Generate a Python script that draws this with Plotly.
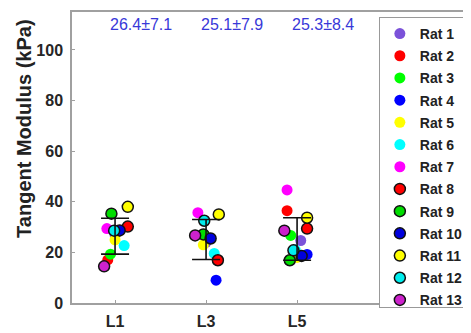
import plotly.graph_objects as go

levels = ["L1", "L3", "L5"]
level_pos = [1, 2, 3]
rats = [f"Rat {i}" for i in range(1, 14)]

# Tangent modulus (kPa) per rat, per level
vals_L1 = [27.0, 17.0, 19.3, 28.0, 25.0, 22.7, 29.4, 30.2, 35.3, 28.7, 38.0, 28.6, 14.5]
vals_L3 = [24.0, 26.0, 27.0, 9.0, 23.0, 19.6, 35.7, 16.9, 27.1, 25.5, 35.0, 32.5, 26.7]
vals_L5 = [24.7, 36.5, 26.7, 19.2, 18.0, 21.0, 44.7, 29.4, 16.9, 18.6, 33.7, 20.8, 28.6]

# horizontal jitter (category units)
jit_L1 = [0.00, -0.08, -0.05, 0.02, 0.00, 0.10, -0.09, 0.14, -0.04, 0.05, 0.14, -0.01, -0.12]
jit_L3 = [0.00, 0.00, -0.02, 0.11, -0.03, 0.09, -0.09, 0.13, -0.03, 0.05, 0.14, -0.02, -0.12]
jit_L5 = [0.04, -0.11, -0.07, 0.11, 0.00, -0.02, -0.11, 0.11, -0.08, 0.05, 0.11, -0.04, -0.14]

means = [26.4, 25.1, 25.3]
sds = [7.1, 7.9, 8.4]
stat_labels = ["26.4±7.1", "25.1±7.9", "25.3±8.4"]

colors = ["#7b52d9", "#ff0000", "#00ff00", "#0000ff", "#ffff00", "#00ffff", "#ff00ff",
          "#ff0000", "#00dd00", "#0000dd", "#ffff00", "#00eeee", "#cc22cc"]
outlined = [False] * 7 + [True] * 6

FONT = "Liberation Sans, Arial, sans-serif"

fig = go.Figure()
for i, rat in enumerate(rats):
    xs = [level_pos[0] + jit_L1[i], level_pos[1] + jit_L3[i], level_pos[2] + jit_L5[i]]
    ys = [vals_L1[i], vals_L3[i], vals_L5[i]]
    fig.add_trace(go.Scatter(
        x=xs, y=ys, mode="markers", name=rat, legendgroup=rat,
        marker=dict(size=11, color=colors[i],
                    line=dict(color="#111111" if outlined[i] else colors[i],
                              width=1.5 if outlined[i] else 0)),
    ))

fig.add_trace(go.Scatter(
    x=level_pos, y=means, mode="markers", showlegend=False,
    marker=dict(size=1, color="rgba(0,0,0,0)"),
    error_y=dict(type="data", array=sds, visible=True, color="#111111",
                 thickness=1.6, width=14),
))

for p, lab in zip(level_pos, stat_labels):
    fig.add_annotation(x=p + 0.28, y=110, text=lab, showarrow=False,
                       font=dict(family=FONT, size=16, color="#3838d8"))

fig.add_annotation(xref="paper", yref="paper", x=-0.152, y=0.60,
                   text="<b>Tangent Modulus (kPa)</b>", textangle=-90,
                   showarrow=False, font=dict(family=FONT, size=20, color="#222222"))

# page body has an 8px default margin; figure sized to fit the 471x333 window
fig.update_layout(
    width=463, height=325,
    margin=dict(l=64, r=1, t=4, b=30, autoexpand=False),
    paper_bgcolor="white", plot_bgcolor="white",
    font=dict(family=FONT),
    legend=dict(x=0.771, y=0.983, xanchor="left", yanchor="top",
                bgcolor="white", bordercolor="#999999", borderwidth=1,
                font=dict(family=FONT, size=14, color="#222222", weight="bold"),
                tracegroupgap=1, itemwidth=30),
)
fig.update_xaxes(range=[0.527, 4.90], tickmode="array", tickvals=level_pos,
                 ticktext=levels, showgrid=False, zeroline=False,
                 showline=True, linecolor="#a0a0a0", linewidth=1.5, mirror=True,
                 ticks="inside", ticklen=3, tickcolor="#a0a0a0", ticklabelstandoff=3,
                 tickfont=dict(family=FONT, size=16, color="#262626", weight="bold"))
fig.update_yaxes(range=[0, 115], tickvals=[0, 20, 40, 60, 80, 100],
                 showgrid=False, zeroline=False,
                 showline=True, linecolor="#a0a0a0", linewidth=1.5, mirror=True,
                 ticks="inside", ticklen=3, tickcolor="#a0a0a0", ticklabelstandoff=4,
                 tickfont=dict(family=FONT, size=16, color="#262626", weight="bold"))

fig.write_html("out.html")
